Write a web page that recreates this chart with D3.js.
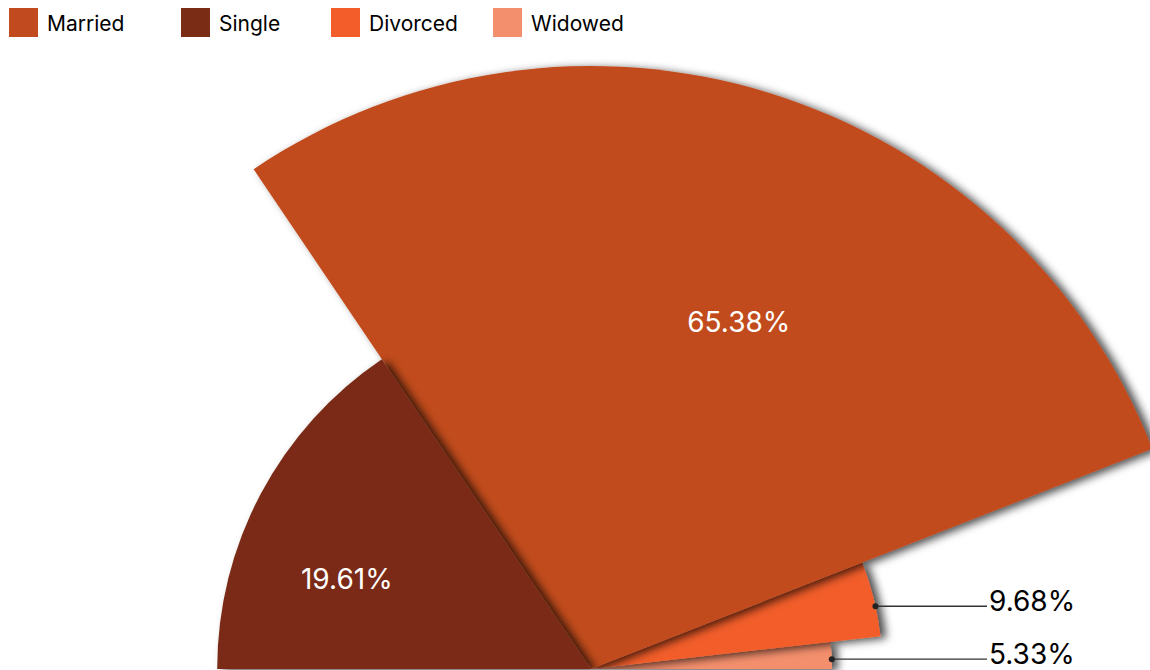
<!DOCTYPE html>
<html>
<head>
<meta charset="utf-8">
<script src="https://cdn.jsdelivr.net/npm/d3@7"></script>
<style>
  html, body { margin: 0; padding: 0; background: #ffffff; }
  svg { display: block; font-family: Inter, "Noto Sans", sans-serif; }
</style>
</head>
<body>
<svg id="chart" width="1150" height="670"></svg>
<script>
// ---- data ----
const categories = ["Married", "Single", "Divorced", "Widowed"];
const percentLabels = [65.38, 19.61, 9.68, 5.33];     // label values (%)
const angleShare = [57.0, 31.1, 8.3, 3.6];             // angular share of the half circle
const palette = ["#C14B1F", "#7A2C14", "#F25D29", "#F48F6D"];
const pieOrder = ["Single", "Married", "Divorced", "Widowed"]; // clockwise from the left

// ---- layout ----
const W = 1150, H = 670;
const cx = 591, cy = 669;
const legendX = [9, 181, 331, 493];
const insideLabel = {           // angle offset (deg) and radius fraction for inside labels
  Married: { da: 5.8, rf: 0.625 },
  Single:  { da: -7.8, rf: 0.696 }
};
const outsideLabel = {          // anchor angle offset (deg)
  Divorced: { da: 1.5 },
  Widowed:  { da: 0.9 }
};
const outsideLabelX = 987;

const data = categories.map((c, i) => ({
  cat: c, pct: percentLabels[i], share: angleShare[i], color: palette[i]
}));
const byCat = new Map(data.map(d => [d.cat, d]));

const svg = d3.select("#chart");

// shadow filter
const defs = svg.append("defs");
const f = defs.append("filter").attr("id", "shadow")
  .attr("x", "-20%").attr("y", "-20%").attr("width", "140%").attr("height", "140%");
f.append("feDropShadow").attr("dx", 6).attr("dy", 2)
  .attr("stdDeviation", 4).attr("flood-color", "#000").attr("flood-opacity", 0.7);

// radius scale (sqrt of value)
const rScale = d3.scalePow().exponent(0.5)
  .domain([d3.min(percentLabels), d3.max(percentLabels)])
  .range([241, 603]);

const pie = d3.pie()
  .sort(null)
  .startAngle(-Math.PI / 2)
  .endAngle(Math.PI / 2)
  .value(d => d.share);

const arcs = pie(pieOrder.map(c => byCat.get(c)));

const g = svg.append("g").attr("transform", `translate(${cx},${cy})`);

const arcGen = d3.arc().innerRadius(0).outerRadius(d => rScale(d.data.pct));

// draw in reverse order so earlier slices' shadows fall correctly
const drawOrder = arcs.slice().reverse();
g.selectAll("path.slice")
  .data(drawOrder)
  .join("path")
  .attr("class", "slice")
  .attr("d", arcGen)
  .attr("fill", d => d.data.color)
  .attr("filter", "url(#shadow)");

// labels
const labelFmt = v => v.toFixed(2) + "%";
const deg = Math.PI / 180;
arcs.forEach(a => {
  const cat = a.data.cat;
  const r = rScale(a.data.pct);
  const mid = (a.startAngle + a.endAngle) / 2;
  if (insideLabel[cat]) {
    const ang = mid + insideLabel[cat].da * deg;
    const rr = r * insideLabel[cat].rf;
    g.append("text")
      .attr("x", rr * Math.sin(ang))
      .attr("y", -rr * Math.cos(ang))
      .attr("text-anchor", "middle")
      .attr("dominant-baseline", "central")
      .attr("fill", "#ffffff")
      .attr("font-size", 28)
      .text(labelFmt(a.data.pct));
  } else {
    const ang = mid + (outsideLabel[cat] ? outsideLabel[cat].da : 0) * deg;
    const px = r * Math.sin(ang), py = -r * Math.cos(ang);
    g.append("line")
      .attr("x1", px).attr("y1", py)
      .attr("x2", outsideLabelX - cx).attr("y2", py)
      .attr("stroke", "#333").attr("stroke-width", 1.4);
    g.append("circle")
      .attr("cx", px).attr("cy", py).attr("r", 3)
      .attr("fill", "#222");
    g.append("text")
      .attr("x", outsideLabelX - cx + 2)
      .attr("y", py + 5)
      .attr("fill", "#000")
      .attr("font-size", 28)
      .text(labelFmt(a.data.pct));
  }
});

// legend
const legend = svg.append("g").attr("class", "legend");
data.forEach((d, i) => {
  const lg = legend.append("g").attr("transform", `translate(${legendX[i]},8)`);
  lg.append("rect").attr("width", 29).attr("height", 29).attr("fill", d.color);
  lg.append("text").attr("x", 38).attr("y", 22.5)
    .attr("font-size", 21).attr("fill", "#000")
    .text(d.cat);
});
</script>
</body>
</html>
